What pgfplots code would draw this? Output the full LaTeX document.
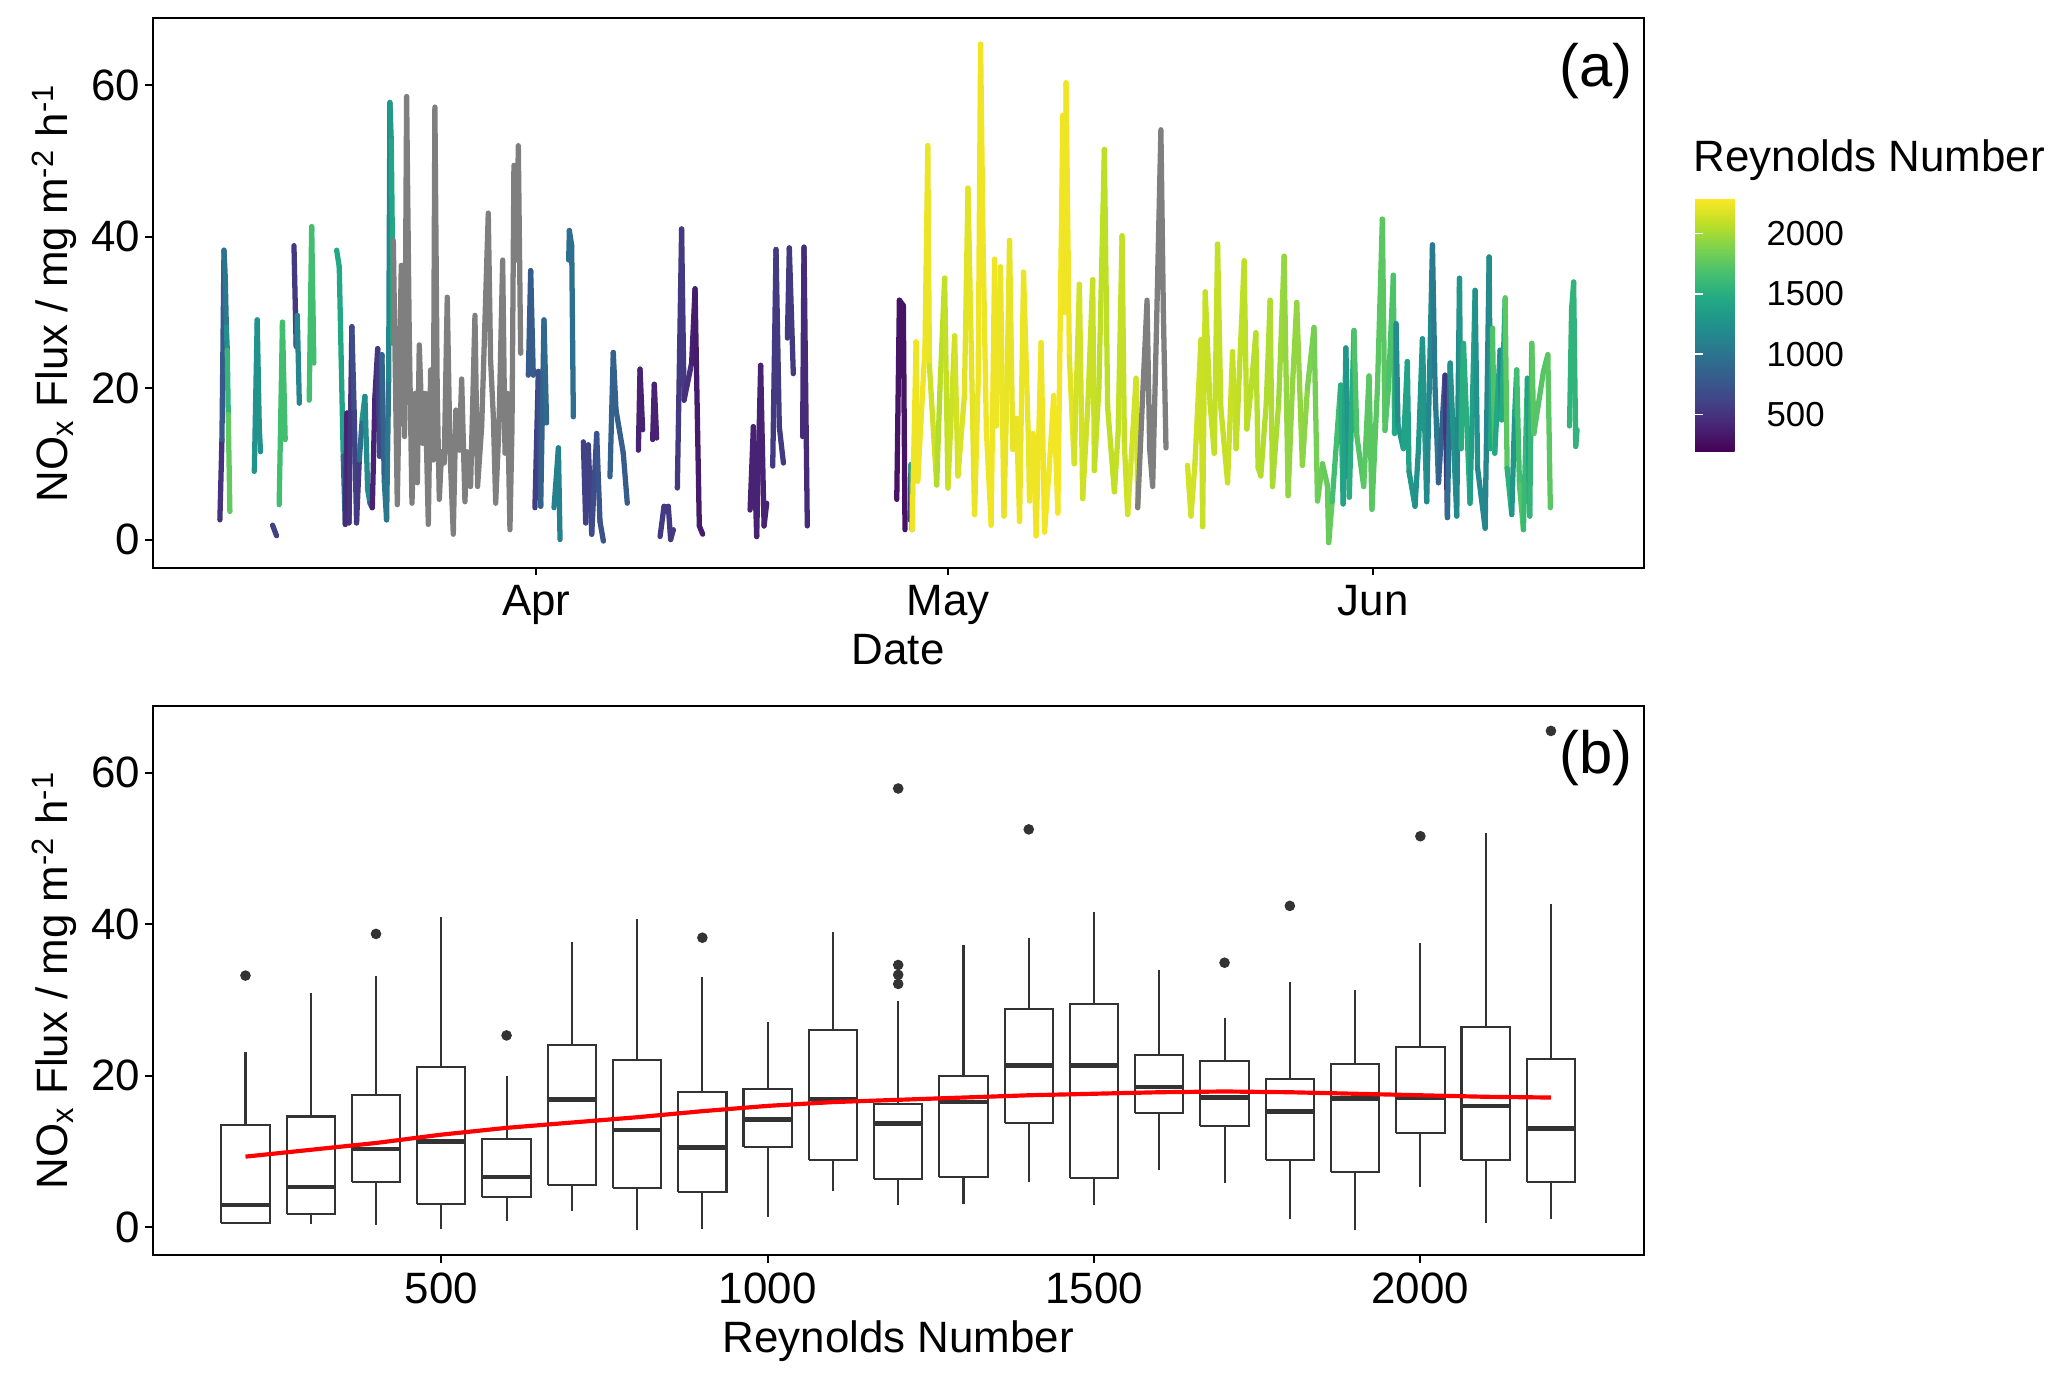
\documentclass[border=0pt]{standalone}
\usepackage{fontspec}
\setmainfont{Liberation Sans}
\usepackage{pgfplots}
\pgfplotsset{compat=1.18}
\definecolor{boxgray}{RGB}{51,51,51}
\definecolor{nagray}{RGB}{127,127,127}
\newcommand\fa{\fontsize{15.8}{18}\selectfont}
\newcommand\fb{\fontsize{12.5}{15}\selectfont}
\newcommand\fc{\fontsize{21.5}{25}\selectfont}
\pgfplotsset{
  colormap={vir}{rgb255=(68,1,84) rgb255=(72,36,117) rgb255=(65,68,135) rgb255=(53,95,141) rgb255=(42,120,142) rgb255=(33,145,140) rgb255=(34,168,132) rgb255=(68,191,112) rgb255=(122,209,81) rgb255=(189,223,38) rgb255=(253,231,37)},
  panel/.style={scale only axis, width=536.7pt, height=197.7pt, anchor=south west,
    ymin=-3.7, ymax=68.8, ytick={0,20,40,60}, yticklabels={0,20,40,60},
    tick align=outside, tick pos=left, major tick length=2.8pt,
    axis line style={line width=0.75pt}, tick style={black, line width=0.75pt},
    xticklabel style={font=\fa, anchor=north, inner sep=0pt, yshift=-3.5pt},
    yticklabel style={font=\fa, anchor=east, inner sep=0pt, xshift=-1.6pt},
    label style={font=\fa},
    xlabel style={at={(axis description cs:0.5,-0.1773)}, anchor=base},
    ylabel style={at={(axis description cs:-0.0569,0.5)}, anchor=base},
    ylabel={NO\textsubscript{x} Flux / mg m\textsuperscript{-2} h\textsuperscript{-1}}},
  seg/.style={mesh, point meta=explicit, line width=1.9pt, line cap=round, line join=round},
  gseg/.style={nagray, line width=1.9pt, line cap=round, line join=round},
}
% box: left, right, centre, lower whisker, Q1, median, Q3, upper whisker
\newcommand\bx[8]{%
\addplot[boxgray, line width=0.75pt] coordinates {(#3,#4) (#3,#5)};
\addplot[boxgray, line width=0.75pt] coordinates {(#3,#7) (#3,#8)};
\addplot[draw=boxgray, fill=white, line width=0.75pt] coordinates {(#1,#5) (#2,#5) (#2,#7) (#1,#7) (#1,#5)};
\addplot[boxgray, line width=1.7pt] coordinates {(#1,#6) (#2,#6)};
}
\begin{document}
\begin{tikzpicture}
\useasboundingbox (0,0) rectangle (744.12pt,496.8pt);
% ---------------- panel (a)
\begin{axis}[panel, at={(55.0pt,292.46pt)},
  xmin=-27.95, xmax=80.7, xtick={0,30,61}, xticklabels={Apr,May,Jun}, xlabel={Date},
  colormap name=vir, point meta min=195, point meta max=2290,
  colorbar, colorbar shift/.style={},
  colorbar style={at={(parent axis.north east)}, anchor=north west, xshift=18.5pt, yshift=-64.8pt,
    scale only axis, width=17.6pt, height=91pt,
    ytick={500,1000,1500,2000}, yticklabels={500,1000,1500,2000},
    ytick pos=both, yticklabel pos=right, tick align=inside, major tick length=2.9pt,
    tick style={draw=white, line width=0.6pt}, axis line style={draw=none}, axis on top,
    yticklabel style={font=\fb, anchor=west, inner sep=0pt, xshift=8pt}}]
\addplot[seg] table[meta index=2, header=false] {
-23.06 2.6 450
-22.91 13.2 550
-22.76 38.2 1000
-22.67 34.7 1000
-22.59 28.1 1050
-22.52 25.0 1400
-22.45 16.5 1750
-22.33 3.7 1800
};
\addplot[seg] table[meta index=2, header=false] {
-20.55 9.0 1250
-20.34 29.0 1250
-20.19 14.9 1250
-20.10 11.6 1250
};
\addplot[seg] table[meta index=2, header=false] {
-19.22 1.9 600
-18.93 0.5 600
};
\addplot[seg] table[meta index=2, header=false] {
-18.74 4.6 1650
-18.50 28.7 1650
-18.30 13.2 1650
};
\addplot[seg] table[meta index=2, header=false] {
-17.66 38.8 550
-17.50 25.5 550
-17.42 29.6 1150
-17.27 18.0 1150
};
\addplot[seg] table[meta index=2, header=false] {
-16.55 18.4 1650
-16.37 41.3 1650
-16.21 23.3 1650
};
\addplot[seg] table[meta index=2, header=false] {
-14.55 38.2 1450
-14.36 36.0 1450
-14.22 23.9 1450
-14.07 11.0 1350
-13.92 2.0 450
-13.80 16.7 450
-13.65 2.2 350
-13.44 28.1 650
-13.27 16.7 700
-13.10 2.2 500
-12.90 10.5 600
-12.68 16.0 1300
-12.49 18.9 1300
-12.29 6.6 1100
-12.12 4.8 1300
-11.95 4.2 400
-11.76 18.9 400
-11.56 25.2 500
-11.42 11.0 600
-11.25 24.4 700
-11.08 7.7 1000
-10.91 2.6 1000
-10.76 21.1 1050
-10.67 57.7 1250
-10.57 52.7 1400
-10.50 41.3 1450
-10.45 25.9 1450
};
\addplot[gseg] table[header=false] {
-10.42 39.5
-10.13 4.6
-9.84 36.2
-9.60 13.6
-9.45 58.5
-9.26 27.2
-9.06 4.8
-8.82 19.3
-8.67 7.5
-8.53 25.7
-8.28 12.7
-8.09 19.3
-7.87 2.0
-7.70 22.4
-7.51 10.5
-7.39 57.1
-7.22 19.3
-7.07 5.3
-6.90 11.6
-6.71 10.1
-6.49 32.0
-6.29 11.8
-6.05 0.7
-5.86 17.1
-5.61 11.8
-5.44 21.2
-5.20 5.0
-5.08 11.6
-4.79 7.0
-4.47 29.6
-4.28 7.0
-3.98 14.9
-3.50 43.1
-3.33 23.7
-3.13 16.2
-2.96 4.8
-2.72 14.9
-2.45 36.9
-2.28 11.4
-2.11 19.3
-1.92 1.3
-1.77 14.9
-1.63 49.4
-1.43 36.9
-1.31 52.0
-1.14 24.6
};
\addplot[seg] table[meta index=2, header=false] {
-0.58 21.7 800
-0.41 35.5 800
-0.22 21.7 800
};
\addplot[seg] table[meta index=2, header=false] {
-0.10 4.2 550
0.15 22.2 600
0.32 4.4 800
0.56 29.0 900
0.75 15.4 900
};
\addplot[seg] table[meta index=2, header=false] {
1.29 4.2 1100
1.61 12.1 1100
1.73 0.0 1100
};
\addplot[seg] table[meta index=2, header=false] {
2.36 36.9 950
2.41 40.8 950
2.58 38.8 950
2.70 16.2 950
};
\addplot[seg] table[meta index=2, header=false] {
3.43 12.9 600
3.60 2.2 600
3.79 12.5 600
4.04 0.7 600
4.40 14.0 750
4.64 2.4 750
4.89 -0.2 700
};
\addplot[seg] table[meta index=2, header=false] {
5.37 8.3 850
5.61 24.7 850
5.81 17.1 850
6.34 11.4 800
6.63 4.8 800
};
\addplot[seg] table[meta index=2, header=false] {
7.44 11.8 400
7.56 22.5 400
7.75 14.5 400
};
\addplot[seg] table[meta index=2, header=false] {
8.48 13.2 400
8.60 20.5 400
8.77 13.4 400
};
\addplot[seg] table[meta index=2, header=false] {
9.02 0.4 550
9.31 4.4 550
9.62 4.4 550
9.79 0.0 550
9.99 1.3 550
};
\addplot[seg] table[meta index=2, header=false] {
10.28 6.8 550
10.59 41.0 550
10.77 18.4 550
11.32 23.3 400
11.57 33.1 350
11.88 1.8 350
12.13 0.7 350
};
\addplot[seg] table[meta index=2, header=false] {
15.58 3.9 400
15.82 14.9 400
16.06 0.4 400
16.35 23.0 400
16.60 1.8 400
16.79 4.8 400
};
\addplot[seg] table[meta index=2, header=false] {
17.23 9.7 550
17.47 38.3 550
17.71 14.9 550
18.01 10.1 550
};
\addplot[seg] table[meta index=2, header=false] {
18.30 26.6 550
18.44 38.5 550
18.73 21.9 550
};
\addplot[seg] table[meta index=2, header=false] {
19.41 13.6 450
19.51 38.6 450
19.75 1.8 450
};
\addplot[seg] table[meta index=2, header=false] {
26.27 5.3 300
26.46 31.6 300
26.75 30.9 300
26.87 1.3 300
};
\addplot[seg] table[meta index=2, header=false] {
27.24 2.6 550
27.31 9.9 550
27.39 1.3 2250
27.68 26.1 2250
27.80 7.7 2250
28.33 25.5 2230
28.53 52.0 2230
28.65 23.0 2230
29.18 7.2 2050
29.42 20.0 2050
29.76 34.5 2100
30.00 6.8 2100
30.49 26.9 2150
30.73 8.4 2150
31.20 19.0 2200
31.46 46.4 2200
31.58 36.0 2200
31.94 3.3 2220
32.20 20.4 2250
32.38 65.4 2250
32.55 40.3 2250
32.80 14.4 2250
33.15 1.9 2250
33.40 37.0 2250
33.52 15.0 2250
33.83 36.0 2230
34.08 3.1 2230
34.30 20.0 2220
34.49 39.5 2220
34.73 11.9 2220
35.00 16.0 2220
35.22 2.4 2230
35.51 35.3 2230
35.87 12.8 2230
35.94 5.1 2230
36.20 14.0 2250
36.43 0.5 2250
36.79 26.0 2250
37.04 1.0 2250
37.40 10.0 2260
37.71 19.0 2260
38.01 3.5 2260
38.37 56.0 2250
38.50 30.0 2250
38.61 60.3 2250
38.85 24.1 2250
39.20 10.0 2150
39.58 33.7 2150
39.82 5.4 2150
40.20 18.0 2120
40.55 34.3 2120
40.67 9.1 2120
41.00 20.0 2080
41.40 51.5 2080
41.64 17.4 2080
42.13 6.3 2100
42.40 14.0 2100
42.69 40.1 2100
42.86 12.5 2100
43.10 3.3 2150
43.40 12.0 2150
43.71 21.3 2150
43.83 4.2 2150
};
\addplot[gseg] table[header=false] {
43.83 4.2
44.19 19.0
44.51 31.6
44.70 12.0
44.92 7.0
45.20 28.0
45.52 54.1
45.70 30.0
45.89 12.1
};
\addplot[seg] table[meta index=2, header=false] {
47.46 9.8 2150
47.71 3.1 2150
48.00 10.0 2150
48.44 26.4 2120
48.56 1.7 2120
48.75 32.7 2120
49.10 18.0 2100
49.41 11.4 2100
49.65 39.0 2100
49.89 17.4 2100
50.38 7.5 2120
50.74 24.8 2120
51.00 12.0 2100
51.59 36.8 2080
51.78 14.6 2080
52.10 20.0 2060
52.44 27.3 2060
52.60 9.5 2060
52.80 8.4 2060
53.20 18.0 2040
53.48 31.6 2040
53.65 7.0 2040
54.10 18.0 2000
54.50 37.4 1950
54.79 5.8 1950
55.10 20.0 1950
55.42 31.3 1950
55.83 9.8 1950
56.20 20.0 1900
56.68 28.0 1850
56.93 5.1 1850
57.30 10.0 1800
57.65 7.2 1800
57.75 -0.4 1800
58.00 5.0 1800
58.62 20.4 1500
58.80 4.7 1500
59.00 25.3 1300
59.25 5.6 1300
59.59 27.6 1700
59.80 13.7 1700
60.30 7.0 1750
60.69 21.6 1750
60.90 4.0 1750
61.30 20.0 1750
61.66 42.3 1750
61.85 14.4 1750
62.10 20.0 1700
62.46 34.9 1700
62.55 14.0 1700
62.66 28.5 1200
62.80 15.1 1200
63.19 12.0 1400
63.48 23.5 1400
63.60 9.0 1400
64.04 4.4 1200
64.29 12.0 1300
64.58 26.5 1300
64.89 5.0 1300
65.31 38.9 1050
65.50 20.0 1050
65.75 7.5 1050
66.23 21.7 650
66.30 12.5 400
66.40 2.9 650
66.60 23.3 1250
67.08 3.1 1250
67.28 34.5 1100
67.40 12.0 1500
67.57 25.9 1500
68.05 4.8 1500
68.42 32.9 1250
68.60 9.4 1250
69.15 1.5 1100
69.44 37.3 1200
69.55 12.0 1200
69.68 27.9 1700
69.85 11.4 1700
70.24 25.0 1200
70.35 15.8 1200
70.61 31.9 1750
70.75 9.4 1750
71.09 3.3 1300
71.30 16.5 1300
71.45 22.4 1650
71.65 7.2 1650
71.94 1.3 1800
72.23 21.3 1400
72.40 3.1 1400
72.55 25.9 1750
72.70 14.0 1750
73.40 22.2 1700
73.72 24.4 1750
73.90 4.2 1750
};
\addplot[seg] table[meta index=2, header=false] {
75.30 15.0 1550
75.45 30.4 1550
75.60 34.0 1550
75.75 12.3 1550
75.85 14.5 1550
};
\node[anchor=east, inner sep=0pt, font=\fc] at (rel axis cs:0.993,0.905) {(a)};
\end{axis}
\node[anchor=base west, inner sep=0pt, font=\fa] at (609.5pt,435.0pt) {Reynolds Number};
% ---------------- panel (b)
\begin{axis}[panel, at={(55.0pt,44.96pt)},
  xmin=58, xmax=2342, xtick={500,1000,1500,2000}, xticklabels={500,1000,1500,2000},
  xlabel={Reynolds Number}]
\bx{163}{237}{200}{0.35}{0.57}{2.9}{13.5}{23.1}
\bx{263}{337}{300}{0.35}{1.7}{5.3}{14.6}{30.9}
\bx{363}{437}{400}{0.26}{6.0}{10.3}{17.4}{33.1}
\bx{463}{537}{500}{-0.2}{3.0}{11.3}{21.1}{41.0}
\bx{563}{637}{600}{0.8}{4.0}{6.6}{11.6}{20.0}
\bx{663}{737}{700}{2.1}{5.5}{16.8}{24.0}{37.6}
\bx{763}{837}{800}{-0.4}{5.1}{12.8}{22.1}{40.7}
\bx{863}{937}{900}{-0.2}{4.6}{10.5}{17.8}{33.0}
\bx{963}{1037}{1000}{1.3}{10.6}{14.2}{18.2}{27.1}
\bx{1063}{1137}{1100}{4.7}{8.9}{16.9}{26.0}{38.9}
\bx{1163}{1237}{1200}{2.9}{6.4}{13.7}{16.3}{29.8}
\bx{1263}{1337}{1300}{3.1}{6.6}{16.5}{20.0}{37.3}
\bx{1363}{1437}{1400}{5.9}{13.7}{21.3}{28.8}{38.2}
\bx{1463}{1537}{1500}{2.9}{6.5}{21.3}{29.5}{41.6}
\bx{1563}{1637}{1600}{7.6}{15.0}{18.5}{22.7}{34.0}
\bx{1663}{1737}{1700}{5.8}{13.3}{17.1}{21.9}{27.6}
\bx{1763}{1837}{1800}{1.1}{8.9}{15.3}{19.6}{32.3}
\bx{1863}{1937}{1900}{-0.35}{7.3}{17.0}{21.5}{31.3}
\bx{1963}{2037}{2000}{5.3}{12.4}{17.1}{23.8}{37.5}
\bx{2063}{2137}{2100}{0.6}{8.8}{16.0}{26.4}{52.0}
\bx{2163}{2237}{2200}{1.0}{5.9}{13.0}{22.2}{42.6}
\addplot[only marks, mark=*, mark size=1.7pt, boxgray, mark options={fill=boxgray, draw=boxgray}] coordinates {
(200,33.2) (400,38.7) (600,25.3) (900,38.2) (1200,32.1) (1200,33.3) (1200,34.6) (1200,57.9)
(1400,52.5) (1700,34.9) (1800,42.4) (2000,51.6) (2200,65.5)};
\addplot[red, line width=1.5pt] coordinates {
(200,9.3) (300,10.2) (400,11.1) (500,12.2) (600,13.1) (700,13.8) (800,14.5) (900,15.3)
(1000,16.0) (1100,16.5) (1200,16.8) (1300,17.1) (1400,17.4) (1500,17.6) (1600,17.8)
(1700,17.9) (1800,17.8) (1900,17.6) (2000,17.4) (2100,17.2) (2200,17.1)};
\node[anchor=east, inner sep=0pt, font=\fc] at (rel axis cs:0.993,0.905) {(b)};
\end{axis}
\end{tikzpicture}
\end{document}
